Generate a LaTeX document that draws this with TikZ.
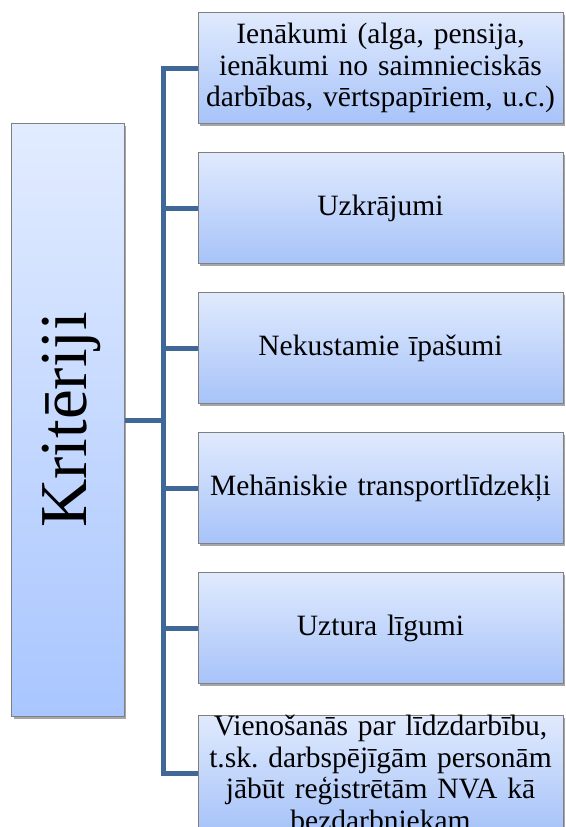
\documentclass[tikz,border=0pt]{standalone}
\usepackage{fontspec}
\setmainfont{Liberation Serif}
\usetikzlibrary{shadows}
\frenchspacing
\definecolor{conncol}{HTML}{3F6797}
\definecolor{boxtop}{HTML}{E0EAFD}
\definecolor{boxbot}{HTML}{A7C3F9}
\definecolor{lbtop}{HTML}{E2ECFF}
\definecolor{lbbot}{HTML}{A9C6FF}
\tikzset{
  box/.style={draw=black!50, line width=1bp, top color=boxtop, bottom color=boxbot,
    minimum width=365bp, minimum height=111bp, text width=360bp, align=center,
    inner sep=0pt, font=\fontsize{29.5bp}{31.5bp}\selectfont,
    drop shadow={shadow xshift=2bp, shadow yshift=-2.5bp, fill=black, opacity=0.35}},
  leftbox/.style={draw=black!50, line width=1bp, top color=lbtop, bottom color=lbbot,
    minimum width=112bp, minimum height=592bp, inner sep=0pt,
    drop shadow={shadow xshift=2bp, shadow yshift=-2.5bp, fill=black, opacity=0.35}},
  conn/.style={draw=conncol, line width=5bp, line join=miter}
}
\begin{document}
\begin{tikzpicture}[x=1bp, y=-1bp]
\useasboundingbox (0,0) rectangle (566,827);
\clip (0,0) rectangle (566,827);
\node[leftbox] (crit) at (68,420) {};
\node[rotate=90, font=\fontsize{67bp}{70bp}\selectfont] (critlabel) at ([xshift=3bp]crit.center) {Kritēriji};
\coordinate (j) at (163,420);
\draw[conn] (crit.east) -- (j);
\node[box] (b1) at (380.5,68) {Ienākumi (alga, pensija,\\ ienākumi no saimnieciskās\\ darbības, vērtspapīriem, u.c.)};
\node[box] (b2) at (380.5,208) {Uzkrājumi};
\node[box] (b3) at (380.5,348) {Nekustamie īpašumi};
\node[box] (b4) at (380.5,488) {Mehāniskie transportlīdzekļi};
\node[box] (b5) at (380.5,628) {Uztura līgumi};
\node[box] (b6) at (380.5,773) {Vienošanās par līdzdarbību,\\ t.sk. darbspējīgām personām\\ jābūt reģistrētām NVA kā\\ bezdarbniekam};
\draw[conn] (b1.west) -| (j);
\draw[conn] (b2.west) -| (j);
\draw[conn] (b3.west) -| (j);
\draw[conn] (b4.west) -| (j);
\draw[conn] (b5.west) -| (j);
\draw[conn] (b6.west) -| (j);
\end{tikzpicture}
\end{document}
